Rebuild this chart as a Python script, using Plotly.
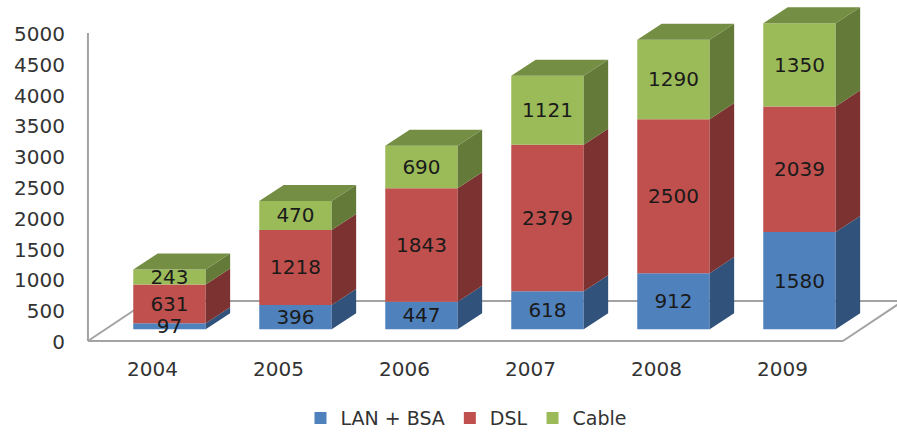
import plotly.graph_objects as go

years = ['2004', '2005', '2006', '2007', '2008', '2009']
lan_bsa = [97, 396, 447, 618, 912, 1580]
dsl = [631, 1218, 1843, 2379, 2500, 2039]
cable = [243, 470, 690, 1121, 1290, 1350]
y_ticks = [0, 500, 1000, 1500, 2000, 2500, 3000, 3500, 4000, 4500, 5000]

# pseudo 3D settings, all in axis units
BAR_WIDTH = 0.575
DEPTH_X = 0.194
DEPTH_Y = 260
FLOOR = 190
LABEL_SHIFT = 0.135
LABEL_NUDGE = -30
FLOOR_X = 0.476
FLOOR_Y = 650
FLOOR_RIGHT = 5.345

series = [
    ('LAN + BSA', lan_bsa, '#4F81BD', '#31527A'),
    ('DSL', dsl, '#C0504D', '#7B3230'),
    ('Cable', cable, '#9BBB59', '#647A39'),
]
TOP_COLOR = '#748E43'
LINE_COLOR = '#A3A3A3'
TEXT_COLOR = '#333333'
FONT = 'DejaVu Sans'
FONT_SIZE = 20

fig = go.Figure()

positions = list(range(len(years)))
bases = [FLOOR] * len(years)
overlay_traces = []
label_traces = []
for name, values, color, side_color in series:
    fig.add_trace(go.Bar(
        x=positions,
        y=values,
        base=bases,
        name=name,
        width=BAR_WIDTH,
        marker=dict(color=color, line=dict(width=0)),
        hoverinfo='x+y',
    ))

    # side face of each block, sheared back from the front right edge
    xs, ys = [], []
    for i, value in enumerate(values):
        right = i + BAR_WIDTH / 2
        low = bases[i]
        high = low + value
        xs += [right, right + DEPTH_X, right + DEPTH_X, right, right, None]
        ys += [low, low + DEPTH_Y, high + DEPTH_Y, high, low, None]
    overlay_traces.append(go.Scatter(
        x=xs, y=ys, mode='lines', fill='toself', fillcolor=side_color,
        line=dict(width=0), showlegend=False, hoverinfo='skip',
    ))

    # labels go in their own trace so the next block can't cover them
    label_traces.append(go.Scatter(
        x=positions,
        y=[b + v / 2 + LABEL_NUDGE for b, v in zip(bases, values)],
        mode='text',
        text=[str(v) for v in values],
        textposition='middle center',
        textfont=dict(size=FONT_SIZE, color='#1A1A1A', family=FONT),
        showlegend=False,
        hoverinfo='skip',
    ))
    bases = [b + v for b, v in zip(bases, values)]

fig.add_traces(overlay_traces)

# top face of each stack
xs, ys = [], []
for i, top in enumerate(bases):
    left = i - BAR_WIDTH / 2
    right = i + BAR_WIDTH / 2
    xs += [left, left + DEPTH_X, right + DEPTH_X, right, left, None]
    ys += [top, top + DEPTH_Y, top + DEPTH_Y, top, top, None]
fig.add_trace(go.Scatter(
    x=xs, y=ys, mode='lines', fill='toself', fillcolor=TOP_COLOR,
    line=dict(width=0), showlegend=False, hoverinfo='skip',
))
fig.add_traces(label_traces)

# wall edge and floor outline sit behind the bars
x_left = -0.647
floor_lines = [
    (x_left, 0, x_left, y_ticks[-1]),
    (x_left, 0, FLOOR_RIGHT, 0),
    (x_left, 0, x_left + FLOOR_X, FLOOR_Y),
    (x_left + FLOOR_X, FLOOR_Y, FLOOR_RIGHT + FLOOR_X, FLOOR_Y),
    (FLOOR_RIGHT, 0, FLOOR_RIGHT + FLOOR_X, FLOOR_Y),
]
for x0, y0, x1, y1 in floor_lines:
    fig.add_shape(type='line', x0=x0, y0=y0, x1=x1, y1=y1, xref='x', yref='y',
                  layer='below', line=dict(color=LINE_COLOR, width=2))

fig.update_layout(
    width=897,
    height=432,
    barmode='overlay',
    paper_bgcolor='white',
    plot_bgcolor='white',
    margin=dict(l=78, r=0, t=0, b=85, pad=0, autoexpand=False),
    font=dict(family=FONT, size=FONT_SIZE, color=TEXT_COLOR),
    xaxis=dict(
        range=[-0.726, 5.774],
        tickmode='array',
        tickvals=[i - LABEL_SHIFT for i in positions],
        ticktext=years,
        showgrid=False,
        zeroline=False,
        showline=False,
        ticks='',
        ticklabelstandoff=8,
    ),
    yaxis=dict(
        range=[-97, 5536],
        tickmode='array',
        tickvals=y_ticks,
        showgrid=False,
        zeroline=False,
        showline=False,
        ticks='',
        ticklabelstandoff=12,
        ticklabelshift=1,
    ),
    legend=dict(
        orientation='h',
        x=0.5195,
        xref='container',
        xanchor='center',
        y=0.032,
        yref='container',
        yanchor='middle',
        font=dict(size=19, color=TEXT_COLOR, family=FONT),
        itemwidth=30,
    ),
)

# drop the default page margin so the figure lines up with the window
fig.write_html('out.html', config={'displayModeBar': False},
               post_script="document.body.style.margin = '0';")
